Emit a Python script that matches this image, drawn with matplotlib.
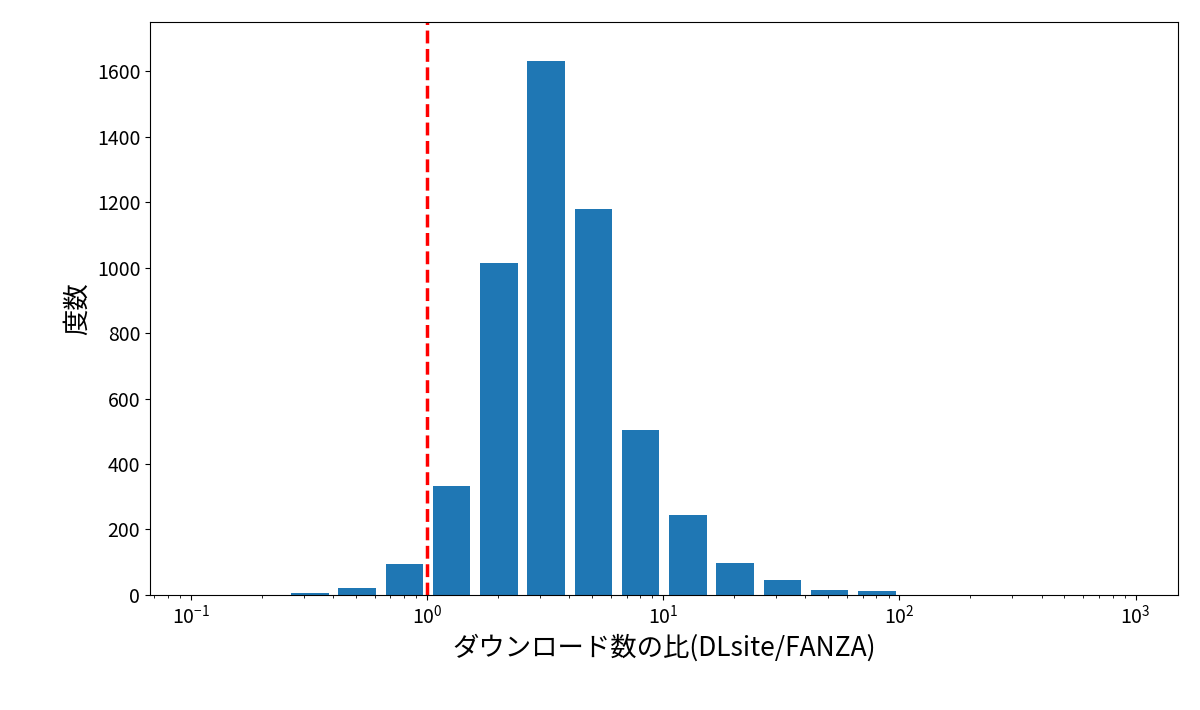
import numpy as np
import matplotlib.pyplot as plt

plt.rcParams['font.family'] = ['Noto Sans CJK JP', 'DejaVu Sans']

# bin edges in log10 space, counts per bin
log_edges = [-1.0, -0.8, -0.6, -0.4, -0.2, 0.0, 0.2, 0.4, 0.6, 0.8, 1.0,
             1.2, 1.4, 1.6, 1.8, 2.0, 2.2, 2.4, 2.6, 2.8, 3.0]
counts = [0, 0, 5, 22, 95, 333, 1015, 1630, 1178, 503, 245,
          97, 45, 15, 12, 0, 0, 0, 0, 0]

edges = 10 ** np.array(log_edges)
centers = np.sqrt(edges[:-1] * edges[1:])

fig = plt.figure(figsize=(12, 7.1), dpi=100)
ax = fig.add_axes([0.125, 0.162, 0.857, 0.807])
ax.hist(centers, bins=edges, weights=counts, rwidth=0.8, color='#1f77b4')
ax.set_xscale('log')
ax.axvline(1, color='red', linestyle='--', linewidth=2.5)
ax.set_ylim(0, 1750)
ax.set_xlabel('ダウンロード数の比(DLsite/FANZA)', fontsize=19)
ax.set_ylabel('度数', fontsize=19)
ax.tick_params(labelsize=14)

fig.savefig('out.png')
